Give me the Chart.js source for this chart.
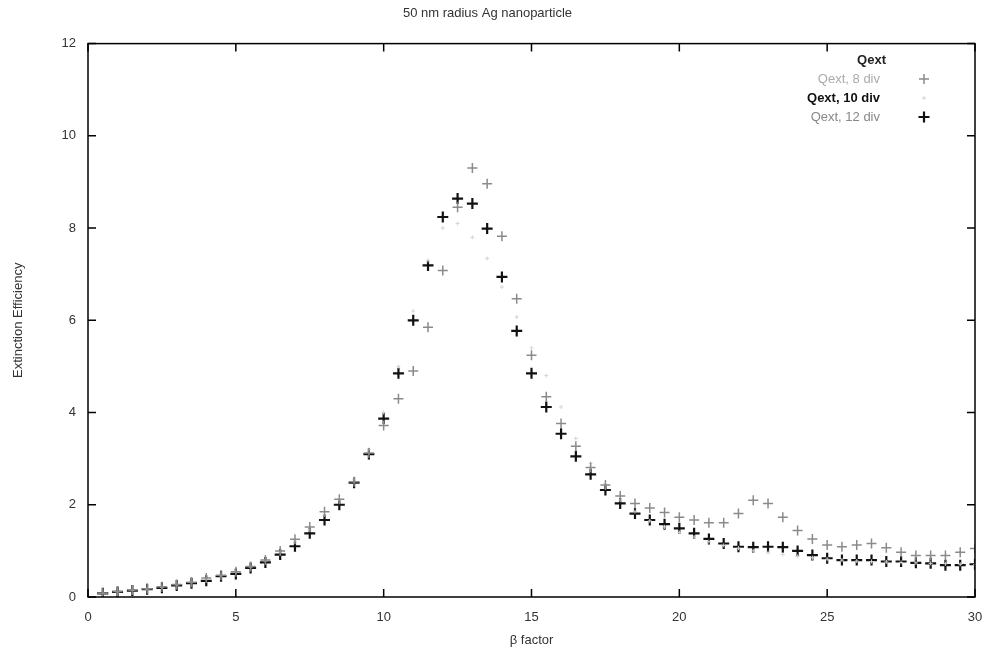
<!DOCTYPE html>
<html lang="en">
<head>
    <meta charset="UTF-8">
    <title>50 nm radius Ag nanoparticle</title>
    <script src="https://cdn.jsdelivr.net/npm/chart.js"></script>
    <style>
        html, body { margin: 0; padding: 0; background: #fff; }
        #wrap { width: 990px; height: 659px; }
    </style>
</head>
<body>
    <div id="wrap"><canvas id="qextChart" width="990" height="659"></canvas></div>

    <script>
        // beta factor values (x)
        const betaFactor = [0.5, 1, 1.5, 2, 2.5, 3, 3.5, 4, 4.5, 5, 5.5, 6, 6.5, 7, 7.5, 8, 8.5, 9, 9.5, 10,
            10.5, 11, 11.5, 12, 12.5, 13, 13.5, 14, 14.5, 15, 15.5, 16, 16.5, 17, 17.5, 18, 18.5, 19, 19.5, 20,
            20.5, 21, 21.5, 22, 22.5, 23, 23.5, 24, 24.5, 25, 25.5, 26, 26.5, 27, 27.5, 28, 28.5, 29, 29.5, 30];

        const qext8 = [0.08, 0.12, 0.15, 0.18, 0.22, 0.27, 0.32, 0.41, 0.47, 0.55, 0.66, 0.80, 1.00, 1.25, 1.52, 1.85, 2.12, 2.50, 3.12, 3.72,
            4.30, 4.90, 5.85, 7.08, 8.45, 9.30, 8.96, 7.82, 6.47, 5.24, 4.34, 3.76, 3.27, 2.81, 2.43, 2.19, 2.03, 1.93, 1.83, 1.73,
            1.67, 1.61, 1.61, 1.81, 2.10, 2.03, 1.73, 1.44, 1.26, 1.13, 1.09, 1.13, 1.16, 1.07, 0.97, 0.90, 0.90, 0.90, 0.97, 1.05];

        const qext10 = [0.08, 0.11, 0.14, 0.17, 0.21, 0.26, 0.31, 0.38, 0.46, 0.54, 0.65, 0.78, 0.97, 1.20, 1.45, 1.78, 2.10, 2.55, 3.20, 4.00,
            5.00, 6.20, 7.30, 8.00, 8.10, 7.80, 7.34, 6.72, 6.07, 5.40, 4.80, 4.12, 3.44, 2.90, 2.45, 2.10, 1.85, 1.65, 1.52, 1.40,
            1.30, 1.20, 1.12, 1.06, 1.00, 0.96, 0.92, 0.88, 0.85, 0.82, 0.80, 0.78, 0.77, 0.76, 0.75, 0.74, 0.73, 0.72, 0.71, 0.70];

        const qext12 = [0.08, 0.11, 0.14, 0.17, 0.20, 0.25, 0.30, 0.35, 0.45, 0.50, 0.63, 0.75, 0.92, 1.10, 1.38, 1.67, 2.00, 2.48, 3.10, 3.87,
            4.85, 6.00, 7.19, 8.24, 8.64, 8.53, 7.99, 6.94, 5.77, 4.85, 4.12, 3.54, 3.05, 2.66, 2.32, 2.03, 1.81, 1.67, 1.58, 1.49,
            1.38, 1.26, 1.16, 1.09, 1.08, 1.09, 1.08, 1.00, 0.91, 0.84, 0.80, 0.80, 0.80, 0.77, 0.77, 0.74, 0.73, 0.69, 0.69, 0.71];

        const xTicks = [0, 5, 10, 15, 20, 25, 30];
        const yTicks = [0, 2, 4, 6, 8, 10, 12];

        const toPoints = (ys) => betaFactor.map((x, i) => ({x: x, y: ys[i]}));

        // gnuplot style frame: box plus inward ticks on all sides, legend inside the plot
        const framePlugin = {
            id: 'frame',
            afterDatasetsDraw(chart) {
                const ctx = chart.ctx;
                const a = chart.chartArea;
                const xs = chart.scales.x, ys = chart.scales.y;
                ctx.save();
                ctx.strokeStyle = '#000';
                ctx.lineWidth = 1.5;
                ctx.strokeRect(a.left, a.top, a.right - a.left, a.bottom - a.top);
                ctx.beginPath();
                xTicks.forEach(v => {
                    const px = xs.getPixelForValue(v);
                    ctx.moveTo(px, a.bottom); ctx.lineTo(px, a.bottom - 8);
                    ctx.moveTo(px, a.top); ctx.lineTo(px, a.top + 8);
                });
                yTicks.forEach(v => {
                    const py = ys.getPixelForValue(v);
                    ctx.moveTo(a.left, py); ctx.lineTo(a.left + 8, py);
                    ctx.moveTo(a.right, py); ctx.lineTo(a.right - 8, py);
                });
                ctx.stroke();

                // legend
                ctx.font = 'bold 13px "Liberation Sans", Arial, sans-serif';
                ctx.textAlign = 'right';
                ctx.textBaseline = 'middle';
                ctx.fillStyle = '#222';
                ctx.fillText('Qext', 886, 60);
                const rows = [
                    {text: 'Qext, 8 div', color: '#aaa', bold: false, ds: 0, y: 79},
                    {text: 'Qext, 10 div', color: '#111', bold: true, ds: 1, y: 98},
                    {text: 'Qext, 12 div', color: '#888', bold: false, ds: 2, y: 117}
                ];
                rows.forEach(r => {
                    ctx.font = (r.bold ? 'bold ' : '') + '13px "Liberation Sans", Arial, sans-serif';
                    ctx.fillStyle = r.color;
                    ctx.fillText(r.text, 880, r.y);
                    const d = chart.data.datasets[r.ds];
                    const rad = d.pointRadius;
                    ctx.strokeStyle = d.borderColor;
                    ctx.lineWidth = d.borderWidth;
                    ctx.beginPath();
                    ctx.moveTo(924 - rad, r.y); ctx.lineTo(924 + rad, r.y);
                    ctx.moveTo(924, r.y - rad); ctx.lineTo(924, r.y + rad);
                    ctx.stroke();
                });
                ctx.restore();
            }
        };

        const bgPlugin = {
            id: 'bg',
            beforeDraw(chart) {
                const ctx = chart.ctx;
                ctx.save();
                ctx.fillStyle = '#fff';
                ctx.fillRect(0, 0, chart.width, chart.height);
                ctx.restore();
            }
        };

        Chart.defaults.font.family = '"Liberation Sans", Arial, sans-serif';
        Chart.defaults.font.size = 13;
        Chart.defaults.color = '#333';

        new Chart(document.getElementById('qextChart'), {
            type: 'scatter',
            data: {
                datasets: [
                    {
                        label: 'Qext, 8 div',
                        data: toPoints(qext8),
                        pointStyle: 'cross',
                        pointRadius: 5,
                        borderColor: '#8a8a8a',
                        borderWidth: 1.5,
                        backgroundColor: '#8a8a8a'
                    },
                    {
                        label: 'Qext, 10 div',
                        data: toPoints(qext10),
                        pointStyle: 'cross',
                        pointRadius: 2,
                        borderColor: '#d4d4d4',
                        borderWidth: 1,
                        backgroundColor: '#d4d4d4'
                    },
                    {
                        label: 'Qext, 12 div',
                        data: toPoints(qext12),
                        pointStyle: 'cross',
                        pointRadius: 5.5,
                        borderColor: '#111',
                        borderWidth: 2.2,
                        backgroundColor: '#111'
                    }
                ]
            },
            options: {
                responsive: false,
                animation: false,
                layout: { padding: { left: 0, right: 15, top: 0, bottom: 0 } },
                plugins: {
                    legend: { display: false },
                    tooltip: { enabled: false },
                    title: {
                        display: true,
                        text: '50 nm radius Ag nanoparticle',
                        color: '#333',
                        font: { size: 13, weight: 'normal' },
                        padding: { top: 6, bottom: 22 }
                    }
                },
                scales: {
                    x: {
                        type: 'linear',
                        min: 0,
                        max: 30,
                        afterBuildTicks: (s) => { s.ticks = xTicks.map(v => ({value: v})); },
                        afterFit: (s) => { s.height = 62; s.paddingRight = 0; s.paddingLeft = 0; },
                        grid: { display: false, drawTicks: false },
                        border: { display: false },
                        ticks: { padding: 13, color: '#333' },
                        title: {
                            display: true,
                            text: 'β factor',
                            color: '#333',
                            padding: { top: 0, bottom: 11 }
                        }
                    },
                    y: {
                        type: 'linear',
                        min: 0,
                        max: 12,
                        afterBuildTicks: (s) => { s.ticks = yTicks.map(v => ({value: v})); },
                        afterFit: (s) => { s.width = 88; },
                        grid: { display: false, drawTicks: false },
                        border: { display: false },
                        ticks: { padding: 12, color: '#333' },
                        title: {
                            display: true,
                            text: 'Extinction Efficiency',
                            color: '#333',
                            padding: { top: 11, bottom: 0 }
                        }
                    }
                }
            },
            plugins: [bgPlugin, framePlugin]
        });
    </script>
</body>
</html>
